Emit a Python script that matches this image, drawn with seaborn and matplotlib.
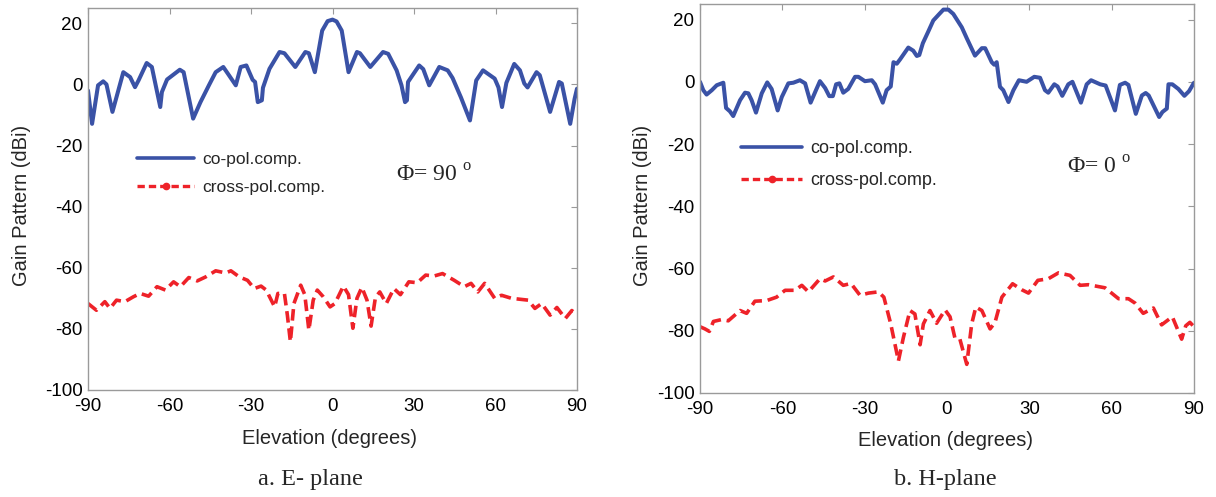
import numpy as np
import pandas as pd
import seaborn as sns
import matplotlib
matplotlib.use("Agg")
import matplotlib.pyplot as plt
from matplotlib.lines import Line2D

# ---------------- data ----------------
e_co_x = [-90, -88.5, -86.3, -84.4, -83.2, -81, -77, -74.5, -72.7, -71.4, -68.4, -66.5, -63.4, -62.8, -60.9,
          -56.2, -54.8, -51.3, -48.6, -45.5, -43, -40.2, -38.5, -35.6, -33.8, -31.7, -29.4, -28.5, -27.5, -26,
          -25.6, -23.2, -19.5, -17.7, -13.7, -10, -8.7, -6.5, -3.8, -1.8, 0, 1.5, 3.4, 5.9, 9, 10.1, 13.9, 18.6,
          20.5, 23.6, 25.4, 26.7, 27.4, 27.8, 31.9, 33.4, 35.6, 39.3, 42.4, 44.2, 47.3, 50.6, 52.9, 55.4, 59.7,
          61.1, 62.4, 64, 66.9, 69, 70.6, 71.8, 75.1, 76.3, 80.1, 83.4, 84.4, 87.5, 89.1, 90]
e_co_y = [-2, -12.9, -0.3, 1, 0, -9, 4, 2.4, -0.9, 1.3, 7, 5.7, -7.4, -2.5, 1.6, 4.8, 4, -11.2, -5.8, -0.3,
          4, 5.7, 3.5, -0.3, 5.7, 6.2, 1.5, 0.8, -5.8, -5.2, -1.1, 5.1, 10.6, 10.2, 5.7, 10.6, 10.2, 4, 17.6,
          20.7, 21.2, 20.6, 17.6, 4, 10.6, 10.2, 5.7, 10.6, 10, 4.6, -0.3, -5.8, -5.2, 0.8, 6.2, 5, -0.3, 5.7,
          4.6, 2.1, -4.3, -11.8, 1.3, 4.6, 1.9, -1, -7.4, 0.5, 6.7, 4.6, 0.3, -1, 4, 3, -9, 0.8, 0.3, -12.9,
          -4.8, -1.4]

e_cx_x = [-90, -86.9, -83.8, -81.9, -79.5, -76.4, -73.3, -70.8, -67.7, -64.6, -61.5, -58.5, -56, -52.9,
          -49.8, -46.7, -43, -39.3, -37.4, -34.3, -31.3, -28.8, -26.3, -24.4, -21.3, -20.1, -17.7, -16.6,
          -15.5, -14.2, -11.7, -10.2, -8.7, -7.1, -5.6, -3.4, -0.9, 0.9, 4, 5.9, 7.5, 9, 10.8, 12.7, 14.2,
          15.8, 17.4, 19.8, 22.6, 25, 28.1, 31.2, 34.3, 37.4, 40.5, 44.8, 48.5, 51, 53.5, 56, 59.7, 62.2,
          65.9, 72, 74.5, 77, 80.1, 82.6, 85.7, 88.1, 90]
e_cx_y = [-71.7, -73.9, -71.1, -73.3, -70.6, -71.1, -69.5, -68.4, -69.3, -66.2, -67.3, -64.6, -66.2,
          -63.2, -64.3, -63, -61, -61.7, -61, -63, -64.1, -66.8, -66, -67.3, -72.8, -68.4, -68.4, -75.6,
          -84.2, -71.7, -65.7, -68.8, -80.4, -70.6, -67.3, -69.5, -72.8, -71.7, -66, -68.8, -79.8, -70,
          -66.4, -70.6, -79.1, -69.7, -67.9, -71.7, -66.8, -68.8, -64.6, -64.9, -62.4, -62.7, -61.9, -64.1,
          -66.2, -65.1, -67.9, -65.1, -70, -69, -70, -70.6, -73.3, -71.7, -75.5, -73, -76.6, -74, -75.5]

h_co_x = [-90, -88.8, -87.6, -85.7, -83.9, -81.5, -80.5, -79.1, -77.9, -75.4,
          -73.6, -72.4, -71.2, -69.6, -67.5, -65.5, -63.9, -61.7, -60.2, -57.8,
          -56, -53.6, -51.7, -49.7, -47.7, -46.3, -44.4, -42.9, -41.6, -40.4,
          -39.2, -37.8, -36, -33.5, -32.3, -29.9, -27.4, -26.2, -23.4, -22,
          -20.5, -19.5, -18.3, -17.1, -14.1, -12.3, -11, -10.1, -8.8, -6.8,
          -5, -2.8, -1.3, 0.5, 2.3, 5.4, 7.2, 10.2, 12.7, 13.9,
          16.3, 17.2, 18.1, 19.3, 20.5, 22.4, 24.2, 26.2, 29, 31.8,
          33.9, 35.7, 36.9, 39.1, 40.3, 42, 44.2, 45.7, 48.8, 50.9,
          52.5, 55.8, 57.8, 61.2, 63, 64.9, 66.1, 68.8, 71, 72.4,
          73.5, 77.3, 78.5, 80.1, 80.7, 82.1, 84.3, 86.5, 88.2, 90]
h_co_y = [0, -2.7, -4.1, -2.7, -1.1, -0.3, -8.4, -9.5, -11, -5.9,
          -3.5, -3.7, -5.9, -9.9, -3.7, -0.2, -2.3, -9.2, -4.9, -0.5,
          -0.3, 0.5, -0.5, -6.7, -2.6, 0.2, -2, -4.6, -4.6, -0.8,
          -0.5, -3.5, -2.3, 1.6, 1.6, 0.2, 0.5, -0.8, -6.7, -2.7,
          -1.5, 6.3, 5.8, 7.2, 11, 10, 8.3, 8.6, 12.4, 16.2,
          19.7, 21.8, 23.2, 23.2, 21.8, 17.5, 14, 8.4, 10.8, 10.8,
          6.3, 5.5, 6.3, -1.6, -2.7, -6.5, -2.7, 0.5, 0, 1.6,
          1.3, -2.7, -3.5, -0.8, -1.5, -4.5, -0.8, 0, -6.7, -0.8,
          0.5, -0.8, -1.2, -9.2, -1, -0.3, -1, -10.3, -4.4, -3.6,
          -4.4, -11.3, -9.7, -8.6, -0.8, -0.8, -2.3, -4.5, -3, -0.3]

h_cx_x = [-90, -88.2, -86.6, -85.1, -82.1, -79.7, -75.4, -73, -70, -65.7,
          -62.1, -59, -55.4, -52.9, -50.5, -46.3, -44.4, -41.4, -37.8, -35,
          -31.7, -28.6, -25, -23, -20.5, -17.7, -15.9, -13.5, -11.7, -9.8,
          -8.6, -6.2, -3.8, -0.7, 1.1, 2.9, 4.7, 7.2, 9, 10.5,
          12.7, 15.7, 17.5, 20, 23.9, 27.2, 29.7, 33.1, 36.9, 40.6,
          44.8, 48.5, 51.5, 57.6, 62.5, 66.1, 68.5, 71.5, 75.2, 78.2,
          82.1, 85.5, 87, 88.5, 90]
h_cx_y = [-78.7, -79.4, -80.2, -77, -76.4, -76.8, -73.5, -74.4, -70.5, -70.3,
          -69.2, -67, -67, -65.4, -67.5, -63.3, -64, -62.7, -65.4, -64.8,
          -68.6, -67.9, -67.5, -69.2, -77.8, -89.7, -82.2, -73.5, -74.6, -84.5,
          -77.8, -73.5, -77.6, -73.3, -75.5, -82.4, -82.7, -90.8, -77.8, -72.4,
          -73.5, -79.4, -77.3, -69.2, -64.9, -66.8, -67.9, -63.8, -63.3, -61.4,
          -62.2, -65.4, -65.2, -66.2, -69.7, -69.7, -71.1, -74.4, -72.7, -78.1,
          -75.5, -82.7, -78.4, -77.3, -78.7]

x_ticks = [-90, -60, -30, 0, 30, 60, 90]
y_ticks = [20, 0, -20, -40, -60, -80, -100]
series_labels = ["co-pol.comp.", "cross-pol.comp."]
panel_captions = ["a. E- plane", "b. H-plane"]
phi_labels = ["Φ= 90", "Φ= 0"]

# ---------------- style ----------------
sns.set_theme(style="white")
plt.rcParams["font.family"] = ["Liberation Sans", "DejaVu Sans"]
plt.rcParams["mathtext.fontset"] = "custom"
plt.rcParams["mathtext.rm"] = "Liberation Serif"

BLUE = "#3a52a6"
RED = "#ee2229"
SPINE = "#9a9a9a"
W, H = 1216, 497

fig = plt.figure(figsize=(W / 100, H / 100), dpi=100)
fig.patch.set_facecolor("white")


def fx(px):
    return px / W


def fy(py):
    return 1 - py / H


def make_ax(l, t, r, b):
    return fig.add_axes([fx(l), fy(b), fx(r) - fx(l), fy(t) - fy(b)])


ax1 = make_ax(88, 8, 577, 390)
ax2 = make_ax(700, 4, 1194, 393)

panels = [
    (ax1, e_co_x, e_co_y, e_cx_x, e_cx_y),
    (ax2, h_co_x, h_co_y, h_cx_x, h_cx_y),
]

for ax, cx, cy, xx, xy in panels:
    df_co = pd.DataFrame({"Elevation": cx, "Gain": cy})
    df_cx = pd.DataFrame({"Elevation": xx, "Gain": xy})
    sns.lineplot(data=df_co, x="Elevation", y="Gain", ax=ax, color=BLUE, lw=2.9,
                 estimator=None, legend=False, solid_joinstyle="round",
                 solid_capstyle="round")
    sns.lineplot(data=df_cx, x="Elevation", y="Gain", ax=ax, color=RED, lw=2.6,
                 estimator=None, legend=False, dash_joinstyle="round")
    ax.lines[-1].set_dashes((3.2, 1.6))
    ax.set_xlim(-90, 90)
    ax.set_ylim(-100, 25)
    ax.set_xticks(x_ticks)
    ax.set_yticks(y_ticks)
    ax.set_xticklabels([str(v) for v in x_ticks])
    ax.set_yticklabels([str(v) for v in y_ticks])
    ax.set_xlabel("")
    ax.set_ylabel("")
    ax.set_facecolor("white")
    for s in ax.spines.values():
        s.set_color(SPINE)
        s.set_linewidth(1.0)
    ax.tick_params(axis="both", which="both", direction="in", length=4, width=0.8,
                   color=SPINE, labelsize=13.5, top=True, right=True,
                   labeltop=False, labelright=False, labelcolor="black")
    ax.tick_params(axis="x", pad=6)
    ax.tick_params(axis="y", pad=4)

# legends
handles = [Line2D([], [], color=BLUE, lw=2.6),
           Line2D([0, 0.5, 1], [0, 0, 0], color=RED, lw=2.4, dashes=(2.2, 1.2),
                  marker="o", ms=4.5, markevery=[1])]

ax1.legend(handles, series_labels, loc="upper left", frameon=False,
           bbox_to_anchor=(fx(137), fy(152)), bbox_transform=fig.transFigure,
           fontsize=12.5, handlelength=3.3, handletextpad=0.45,
           labelspacing=0.75, borderpad=0, borderaxespad=0, numpoints=1)
ax2.legend(handles, series_labels, loc="upper left", frameon=False,
           bbox_to_anchor=(fx(741), fy(140)), bbox_transform=fig.transFigure,
           fontsize=13, handlelength=3.4, handletextpad=0.45,
           labelspacing=0.85, borderpad=0, borderaxespad=0, numpoints=1)

# phi annotations
fig.text(fx(396), fy(176), phi_labels[0] + r" $^{\mathrm{o}}$", fontsize=17,
         family="Liberation Serif", va="center", ha="left")
fig.text(fx(1067), fy(168), phi_labels[1] + r" $^{\mathrm{o}}$", fontsize=17,
         family="Liberation Serif", va="center", ha="left")

# axis labels
fig.text(fx(330), fy(438), "Elevation (degrees)", fontsize=14.5, ha="center", va="center")
fig.text(fx(945), fy(440), "Elevation (degrees)", fontsize=14.5, ha="center", va="center")
fig.text(fx(22), fy(205), "Gain Pattern (dBi)", fontsize=14.5, ha="center", va="center",
         rotation=90)
fig.text(fx(643), fy(205), "Gain Pattern (dBi)", fontsize=14.5, ha="center", va="center",
         rotation=90)

# captions
fig.text(fx(310), fy(479), panel_captions[0], fontsize=17.5, family="Liberation Serif",
         ha="center", va="center")
fig.text(fx(945), fy(480), panel_captions[1], fontsize=17.5, family="Liberation Serif",
         ha="center", va="center")

fig.savefig("out.png", dpi=100, facecolor="white")
